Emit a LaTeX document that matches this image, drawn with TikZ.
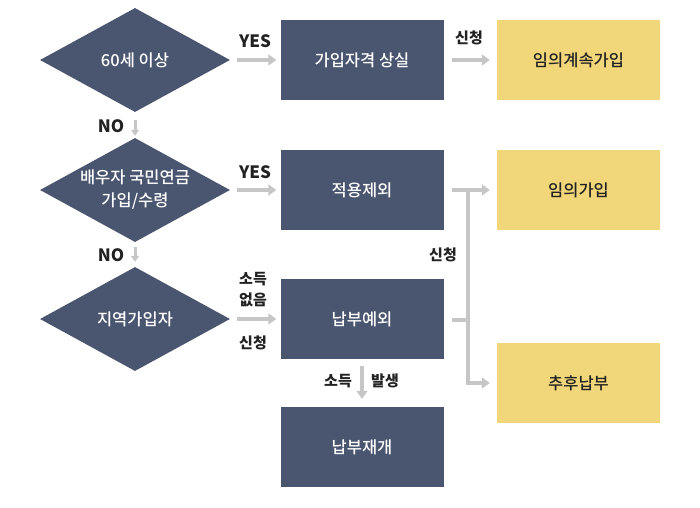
\documentclass[tikz,border=0pt]{standalone}
\usepackage{fontspec}
\setmainfont{Noto Sans CJK KR}
\newfontfamily\medfont{Noto Sans CJK KR}[UprightFont=* Medium]
\usetikzlibrary{shapes.geometric,arrows.meta}
\definecolor{navy}{HTML}{4A5670}
\definecolor{ylw}{HTML}{F2D77A}
\definecolor{garr}{HTML}{C6C6C6}
\definecolor{txt}{HTML}{222222}
\begin{document}
\begin{tikzpicture}[x=1pt,y=-1pt,
  dia/.style={diamond,fill=navy,minimum width=190pt,minimum height=104pt,inner sep=0pt},
  dtext/.style={text=white,font=\medfont\fontsize{16.5pt}{23pt}\selectfont,align=center,inner sep=0pt},
  darkbox/.style={fill=navy,minimum width=163pt,minimum height=80pt,inner sep=0pt,text=white,font=\medfont\fontsize{16.5pt}{20pt}\selectfont},
  ybox/.style={fill=ylw,minimum width=163pt,minimum height=80pt,inner sep=0pt,text=txt,font=\medfont\fontsize{16.5pt}{20pt}\selectfont},
  lbl/.style={text=txt,font=\fontsize{15pt}{18pt}\selectfont\bfseries,inner sep=0pt},
  lbll/.style={text=txt,font=\fontsize{17pt}{18pt}\selectfont\bfseries,inner sep=0pt},
  garrow/.style={draw=garr,line width=4pt,-{Triangle[length=8pt,width=11pt]}},
  gsmall/.style={draw=garr,line width=3pt,-{Triangle[length=6pt,width=8pt]}},
  gline/.style={draw=garr,line width=4pt}]
\useasboundingbox (0,0) rectangle (700,507);
% diamonds
\node[dia] (d1) at (135,60) {};
\node[dtext] (t1) at (d1) {60세 이상};
\node[dia] (d2) at (135,190) {};
\node[dtext] (t2) at (d2) {배우자 국민연금\\가입/수령};
\node[dia] (d3) at (135,319) {};
\node[dtext] (t3) at (d3) {지역가입자};
% dark boxes
\node[darkbox] (b1) at (362,60) {가입자격 상실};
\node[darkbox] (b2) at (362,190) {적용제외};
\node[darkbox] (b3) at (362,319) {납부예외};
\node[darkbox] (b4) at (362,447) {납부재개};
% yellow boxes
\node[ybox] (y1) at (578.5,60) {임의계속가입};
\node[ybox] (y2) at (578.5,190) {임의가입};
\node[ybox] (y3) at (578.5,383) {추후납부};
% junction coordinates
\coordinate (j1) at (468,190);
\coordinate (j2) at (468,383);
\coordinate (j3) at (468,320);
% arrows
\draw[garrow] ([xshift=7pt]d1.east) -- ([xshift=-4pt]b1.west);
\draw[garrow] ([xshift=7pt]d2.east) -- ([xshift=-4pt]b2.west);
\draw[garrow] ([xshift=7pt]d3.east) -- ([xshift=-4pt]b3.west |- d3.east);
\draw[garrow] ([xshift=8pt]b1.east) -- ([xshift=-7pt]y1.west);
\draw[garrow] ([xshift=8pt]b2.east) -- ([xshift=-7pt]y2.west);
\draw[gline] ([yshift=2pt]j1) -- ([yshift=-2pt]j2);
\draw[garrow] (j2) -- ([xshift=-7pt]y3.west);
\draw[gline] ([xshift=8pt]b3.east |- j3) -- (j3);
\draw[gsmall] ([yshift=-8pt]d1.south) -- ([yshift=2pt]d2.north);
\draw[gsmall] ([yshift=-5pt]d2.south) -- ([yshift=5pt]d3.north);
\draw[garrow] ([yshift=-7pt]b3.south) -- ([yshift=8pt]b4.north);
% labels
\node[lbll] (yes1) at (255,41) {YES};
\node[lbll] (yes2) at (255,172.5) {YES};
\node[lbll] (no1) at (111,126) {NO};
\node[lbll] (no2) at (111,255) {NO};
\node[lbl] (s1) at (469,38) {신청};
\node[lbl] (s2) at (443,255) {신청};
\node[lbl] (so1) at (253,279) {소득};
\node[lbl] (eo1) at (253,300) {없음};
\node[lbl] (s3) at (253,343) {신청};
\node[lbl] (so2) at (338,381) {소득};
\node[lbl] (bs) at (385,381) {발생};
\end{tikzpicture}
\end{document}
